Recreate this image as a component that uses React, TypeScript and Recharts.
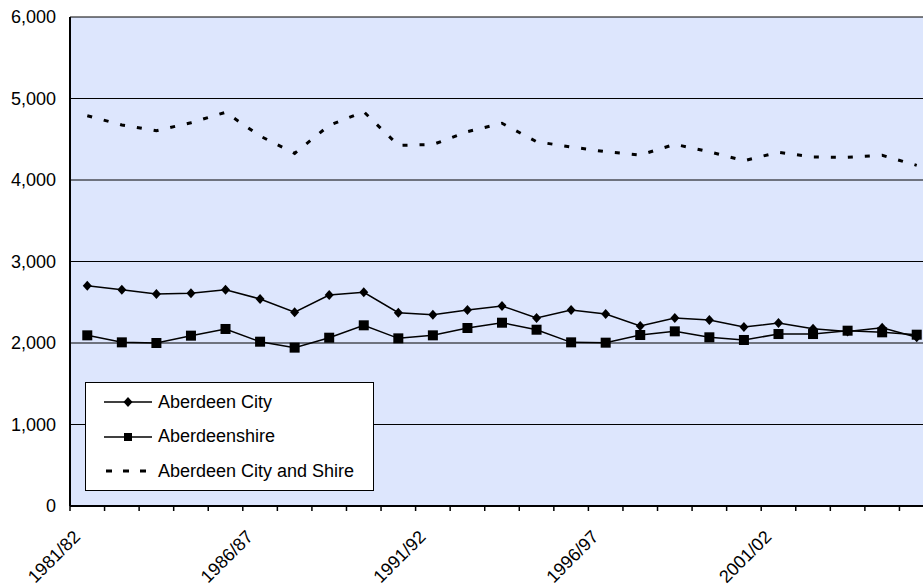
import React from 'react';
import { LineChart, Line, XAxis, YAxis, CartesianGrid, Legend } from 'recharts';

const years = [
  '1981/82', '1982/83', '1983/84', '1984/85', '1985/86', '1986/87', '1987/88',
  '1988/89', '1989/90', '1990/91', '1991/92', '1992/93', '1993/94', '1994/95',
  '1995/96', '1996/97', '1997/98', '1998/99', '1999/00', '2000/01', '2001/02',
  '2002/03', '2003/04', '2004/05', '2005/06',
];

const aberdeenCity = [
  2703, 2654, 2601, 2610, 2654, 2540, 2377, 2589, 2622, 2372, 2347, 2405, 2454,
  2307, 2405, 2356, 2209, 2307, 2282, 2196, 2245, 2176, 2140, 2188, 2070,
];

const aberdeenshire = [
  2094, 2008, 2000, 2090, 2172, 2016, 1943, 2065, 2217, 2057, 2094, 2184, 2249,
  2163, 2008, 2004, 2098, 2143, 2070, 2037, 2110, 2110, 2151, 2131, 2102,
];

const cityAndShire = [
  4789, 4675, 4605, 4703, 4830, 4540, 4327, 4671, 4838, 4425, 4435, 4593, 4696,
  4470, 4405, 4347, 4307, 4438, 4347, 4237, 4340, 4282, 4278, 4303, 4180,
];

const yTicks = [0, 1000, 2000, 3000, 4000, 5000, 6000];

const FONT = "'Liberation Sans', Arial, sans-serif";

const rows = years.map((year, i) => ({
  idx: i,
  year,
  city: aberdeenCity[i],
  shire: aberdeenshire[i],
  both: cityAndShire[i],
}));

const seriesInfo = [
  { key: 'city', name: 'Aberdeen City', marker: 'diamond' },
  { key: 'shire', name: 'Aberdeenshire', marker: 'square' },
  { key: 'both', name: 'Aberdeen City and Shire', marker: 'none' },
];

const Diamond = ({ cx, cy, r = 5 }: any) => (
  <polygon points={`${cx},${cy - r} ${cx + r - 0.5},${cy} ${cx},${cy + r} ${cx - r + 0.5},${cy}`} fill="#000" />
);

const Square = ({ cx, cy, s = 10 }: any) => (
  <rect x={cx - s / 2} y={cy - s / 2} width={s} height={s} fill="#000" />
);

const XTick = (props: any) => {
  const { x, y, payload, width, visibleTicksCount } = props;
  const band = width && visibleTicksCount ? width / visibleTicksCount : 864 / 25;
  const i = payload.value;
  const lx = x - 6;
  const ly = y + 32;
  return (
    <g>
      <line x1={x - band / 2} x2={x - band / 2} y1={y} y2={y + 5} stroke="#000" strokeWidth={1.5} />
      {i % 5 === 0 && (
        <text x={lx} y={ly} textAnchor="end" transform={`rotate(-45, ${lx}, ${ly})`} fontSize={18} fill="#000" fontFamily={FONT}>
          {years[i]}
        </text>
      )}
    </g>
  );
};

const renderLegend = () => (
  <div
    style={{
      width: 289,
      height: 109,
      boxSizing: 'border-box',
      border: '1px solid #000',
      background: '#fff',
      paddingTop: 2,
      fontFamily: FONT,
      fontSize: 18,
      color: '#000',
    }}
  >
    {seriesInfo.map((s) => (
      <div key={s.key} style={{ display: 'flex', alignItems: 'center', height: 34.5 }}>
        <svg width={48} height={12} style={{ marginLeft: 18, display: 'block' }}>
          {s.marker === 'none' ? (
            <line x1={2} x2={48} y1={6} y2={6} stroke="#000" strokeWidth={3} strokeDasharray="6 11" />
          ) : (
            <line x1={0} x2={48} y1={6} y2={6} stroke="#000" strokeWidth={1.5} />
          )}
          {s.marker === 'diamond' && <Diamond cx={24} cy={6} r={5} />}
          {s.marker === 'square' && <Square cx={24} cy={6} s={8} />}
        </svg>
        <span style={{ marginLeft: 6, whiteSpace: 'nowrap' }}>{s.name}</span>
      </div>
    ))}
  </div>
);

export default function App() {
  return (
    <div style={{ position: 'absolute', left: 0, top: 0, width: 923, height: 586, overflow: 'hidden', background: '#fff' }}>
      <LineChart width={934} height={586} data={rows} margin={{ top: 17, right: 0, bottom: 0, left: 0 }} style={{ fontFamily: FONT }}>
        <CartesianGrid vertical={false} stroke="#000" strokeWidth={1} fill="#dde6fd" fillOpacity={1} />
        <XAxis
          dataKey="idx"
          type="number"
          domain={[-0.5, 24.5]}
          ticks={years.map((_, i) => i)}
          interval={0}
          height={80}
          axisLine={{ stroke: '#000', strokeWidth: 2 }}
          tickLine={false}
          tickSize={0}
          tickMargin={0}
          tick={<XTick />}
        />
        <YAxis
          domain={[0, 6000]}
          ticks={yTicks}
          interval={0}
          width={70}
          axisLine={{ stroke: '#000', strokeWidth: 2 }}
          tickLine={false}
          tickSize={0}
          tickMargin={14}
          tick={{ fill: '#000', fontSize: 18, fontFamily: FONT }}
          tickFormatter={(v: number) => v.toLocaleString('en-GB')}
        />
        <Legend
          layout="vertical"
          align="center"
          verticalAlign="middle"
          content={renderLegend}
          wrapperStyle={{ left: 85, top: 382, width: 289, height: 109 }}
        />
        <Line
          dataKey="both"
          name="Aberdeen City and Shire"
          stroke="#000"
          strokeWidth={3}
          strokeDasharray="5 12"
          dot={false}
          activeDot={false}
          isAnimationActive={false}
        />
        <Line
          dataKey="shire"
          name="Aberdeenshire"
          stroke="#000"
          strokeWidth={1.5}
          dot={(p: any) => <Square key={`s-${p.index}`} cx={p.cx} cy={p.cy} s={10} />}
          activeDot={false}
          isAnimationActive={false}
        />
        <Line
          dataKey="city"
          name="Aberdeen City"
          stroke="#000"
          strokeWidth={1.5}
          dot={(p: any) => <Diamond key={`d-${p.index}`} cx={p.cx} cy={p.cy} r={5} />}
          activeDot={false}
          isAnimationActive={false}
        />
      </LineChart>
    </div>
  );
}
